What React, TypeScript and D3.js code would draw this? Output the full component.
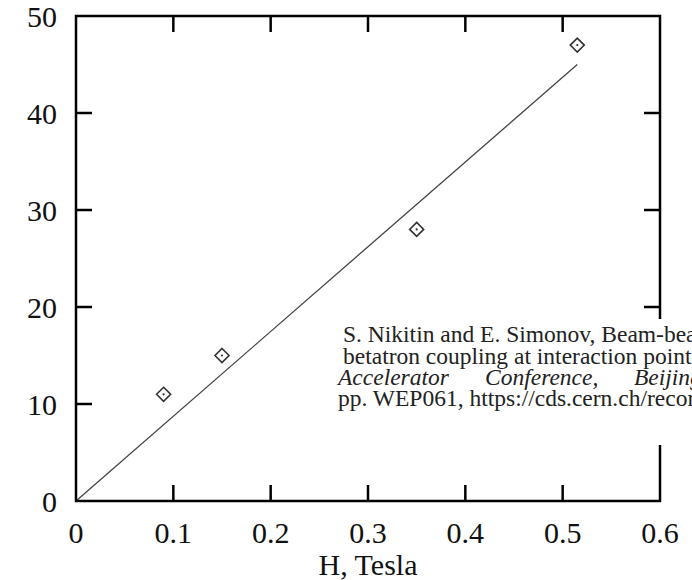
import React from 'react'
import * as d3 from 'd3'

// measured points (H in Tesla, value)
const fieldH = [0.09, 0.15, 0.35, 0.515]
const measured = [11, 15, 28, 47]
// fitted straight line
const fitH = [0, 0.515]
const fitVal = [0, 45]

const xTicks = [0, 0.1, 0.2, 0.3, 0.4, 0.5, 0.6]
const yTicks = [0, 10, 20, 30, 40, 50]

const citeLines = [
  'S. Nikitin and E. Simonov, Beam-beam',
  'betatron coupling at interaction points',
  'pp. WEP061, https://cds.cern.ch/record'
]
const citeItalic = ['Accelerator', 'Conference,', 'Beijing']

const W = 692
const H = 580
const left = 76
const right = 660
const top = 16
const bottom = 501
const tickLen = 16
const font = '"Liberation Serif", "Times New Roman", serif'

const App = () => {
  const x = d3.scaleLinear().domain([0, 0.6]).range([left, right])
  const y = d3.scaleLinear().domain([0, 50]).range([bottom, top])

  const line = d3.line<number>()
    .x((d, i) => x(fitH[i]))
    .y(d => y(d))

  const diamond = 7

  return (
    <svg width={W} height={H} style={{position: 'absolute', left: 0, top: 0, background: '#fff'}}>
      {/* fit line */}
      <path d={line(fitVal) ?? ''} fill='none' stroke='#444' strokeWidth={1.3} />

      {/* markers */}
      {measured.map((v, i) => {
        const cx = x(fieldH[i])
        const cy = y(v)
        return (
          <g key={i}>
            <path
              d={`M${cx},${cy - diamond}L${cx + diamond},${cy}L${cx},${cy + diamond}L${cx - diamond},${cy}Z`}
              fill='#fff' stroke='#333' strokeWidth={1.6} />
            <circle cx={cx} cy={cy} r={1.1} fill='#333' />
          </g>
        )
      })}

      {/* ticks, inward on all four sides */}
      {xTicks.slice(1, -1).map(t => (
        <g key={'xt' + t} stroke='#000' strokeWidth={2.5}>
          <line x1={x(t)} x2={x(t)} y1={bottom} y2={bottom - tickLen} />
          <line x1={x(t)} x2={x(t)} y1={top} y2={top + tickLen} />
        </g>
      ))}
      {yTicks.slice(1, -1).map(t => (
        <g key={'yt' + t} stroke='#000' strokeWidth={2.5}>
          <line x1={left} x2={left + tickLen} y1={y(t)} y2={y(t)} />
          <line x1={right} x2={right - tickLen} y1={y(t)} y2={y(t)} />
        </g>
      ))}

      {/* frame */}
      <rect x={left} y={top} width={right - left} height={bottom - top}
        fill='none' stroke='#000' strokeWidth={2.5} />

      {/* tick labels */}
      {xTicks.map(t => (
        <text key={'xl' + t} x={x(t)} y={543} textAnchor='middle'
          fontFamily={font} fontSize={30} fill='#111'>{d3.format('')(t)}</text>
      ))}
      {yTicks.map(t => (
        <text key={'yl' + t} x={57} y={y(t)} dy='0.35em' textAnchor='end'
          fontFamily={font} fontSize={30} fill='#111'>{t}</text>
      ))}
      <text x={(left + right) / 2} y={575} textAnchor='middle'
        fontFamily={font} fontSize={30} fill='#111'>H, Tesla</text>

      {/* overlapping citation box */}
      <rect x={335} y={319} width={W - 335} height={126} fill='#fff' />
      <g fontFamily={font} fontSize={23.5} fill='#222'>
        <text x={343} y={342}>{citeLines[0]}</text>
        <text x={343} y={364}>{citeLines[1]}</text>
        <text x={338} y={385} fontStyle='italic'>{citeItalic[0]}</text>
        <text x={485} y={385} fontStyle='italic'>{citeItalic[1]}</text>
        <text x={634} y={385} fontStyle='italic'>{citeItalic[2]}</text>
        <text x={338} y={406}>{citeLines[2]}</text>
      </g>
    </svg>
  )
}

export default App
